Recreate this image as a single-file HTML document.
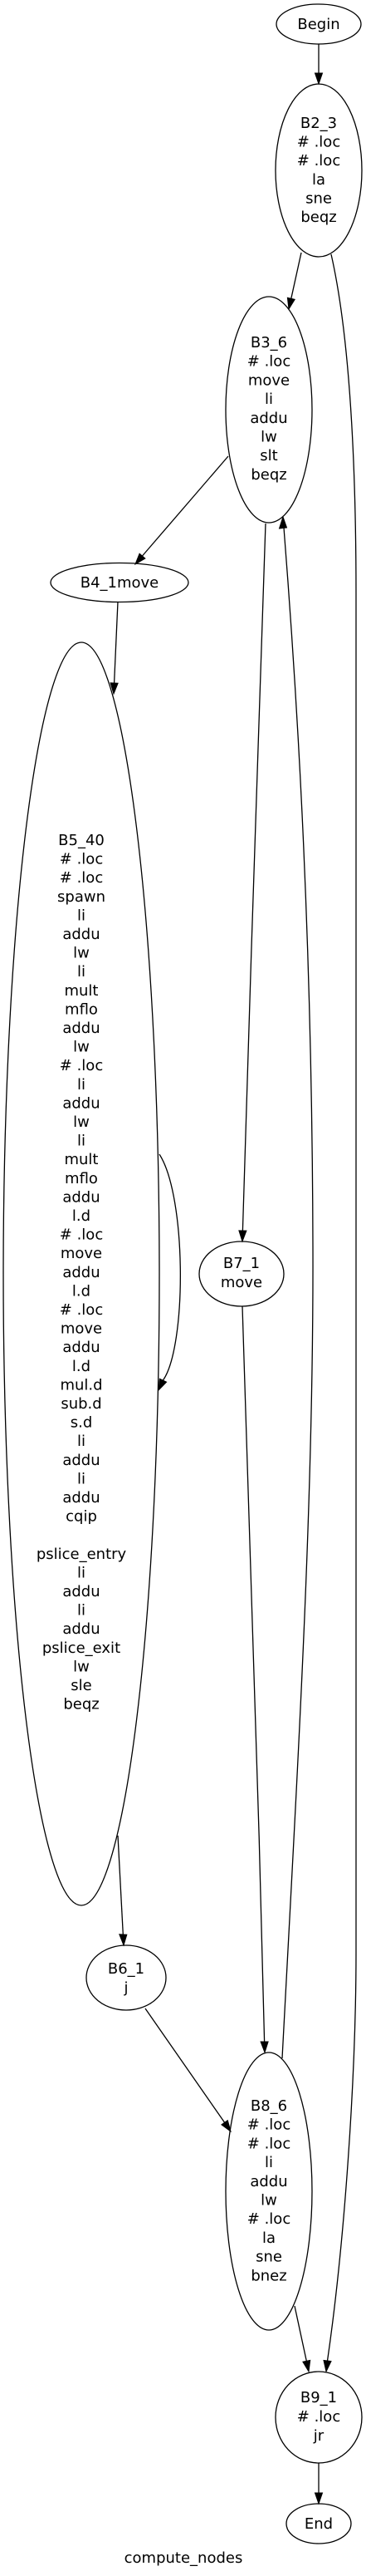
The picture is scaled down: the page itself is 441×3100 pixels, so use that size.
<!DOCTYPE html>
<html><head><meta charset="utf-8"><style>
html,body{margin:0;padding:0;background:#fff;}
svg{display:block;}
text{font-family:"DejaVu Sans","Liberation Sans",sans-serif;font-size:18px;fill:#000;text-anchor:middle;}
</style></head><body>
<svg width="441" height="3100" viewBox="0 0 441 3100" xmlns="http://www.w3.org/2000/svg">
<g fill="none" stroke="#000" stroke-width="1.3">
<ellipse cx="384" cy="29" rx="51" ry="24"/>
<ellipse cx="384" cy="205" rx="52" ry="104"/>
<ellipse cx="324" cy="493" rx="52" ry="136"/>
<ellipse cx="144" cy="701" rx="83" ry="23.5"/>
<ellipse cx="98" cy="1533" rx="94" ry="760"/>
<ellipse cx="291" cy="1533" rx="51" ry="39"/>
<ellipse cx="152" cy="2380" rx="48" ry="39"/>
<ellipse cx="324" cy="2637" rx="52" ry="167"/>
<ellipse cx="384" cy="2909" rx="52" ry="55"/>
<ellipse cx="384" cy="3037" rx="39" ry="24"/>
<path d="M384,53 L384,88"/>
<path d="M363,304 L350.8,359.3"/>
<path d="M275,549 L171.5,669"/>
<path d="M142,724 L137.6,822"/>
<path d="M320,630 C312,900 300,1200 292.4,1481"/>
<path d="M340,2477 C360,2100 378,1800 377,1500 C376,1100 355,800 342,635"/>
<path d="M192,1389 C225,1440 225,1620 196.5,1661"/>
<path d="M292,1572 C298,1800 312,2150 318.6,2457"/>
<path d="M142,2209 L148.3,2328"/>
<path d="M175,2417 L270.6,2554.3"/>
<path d="M355,2775 L369.3,2841.3"/>
<path d="M399,306 C425,420 429,600 429,714 L429,2350 C429,2500 415,2700 394.5,2841"/>
<path d="M384,2964 L384,3000"/>
</g>
<g fill="#000" stroke="#000" stroke-width="1">
<polygon points="384,101 379.5,88 388.5,88"/>
<polygon points="348,372 355.2,360.3 346.4,358.3"/>
<polygon points="163,679 174.9,672 168.1,666.2"/>
<polygon points="137,835 142.1,822.2 133.1,821.8"/>
<polygon points="292,1494 296.9,1481.1 287.9,1480.9"/>
<polygon points="341,622 345.5,635 336.5,636"/>
<polygon points="191,1673 200.6,1663.1 192.4,1659.3"/>
<polygon points="319,2470 323.1,2457 314.1,2457"/>
<polygon points="149,2341 152.8,2328.2 143.8,2327.8"/>
<polygon points="278,2565 274.3,2551.7 266.9,2556.9"/>
<polygon points="372,2854 373.7,2840.4 364.9,2842.2"/>
<polygon points="393,2854 399,2841.5 390,2840.5"/>
<polygon points="384,3013 379.5,3000 388.5,3000"/>
</g>
<text x="384" y="35">Begin</text>
<text x="384" y="154"><tspan x="384">B2_3</tspan><tspan x="384" dy="22.6"># .loc</tspan><tspan x="384" dy="22.6"># .loc</tspan><tspan x="384" dy="22.6">la</tspan><tspan x="384" dy="22.6">sne</tspan><tspan x="384" dy="22.6">beqz</tspan></text>
<text x="324" y="418"><tspan x="324">B3_6</tspan><tspan x="324" dy="22.7"># .loc</tspan><tspan x="324" dy="22.7">move</tspan><tspan x="324" dy="22.7">li</tspan><tspan x="324" dy="22.7">addu</tspan><tspan x="324" dy="22.7">lw</tspan><tspan x="324" dy="22.7">slt</tspan><tspan x="324" dy="22.7">beqz</tspan></text>
<text x="144" y="707">B4_1move</text>
<text x="98" y="1017"><tspan x="98">B5_40</tspan><tspan x="98" dy="22.6"># .loc</tspan><tspan x="98" dy="22.6"># .loc</tspan><tspan x="98" dy="22.6">spawn</tspan><tspan x="98" dy="22.6">li</tspan><tspan x="98" dy="22.6">addu</tspan><tspan x="98" dy="22.6">lw</tspan><tspan x="98" dy="22.6">li</tspan><tspan x="98" dy="22.6">mult</tspan><tspan x="98" dy="22.6">mflo</tspan><tspan x="98" dy="22.6">addu</tspan><tspan x="98" dy="22.6">lw</tspan><tspan x="98" dy="22.6"># .loc</tspan><tspan x="98" dy="22.6">li</tspan><tspan x="98" dy="22.6">addu</tspan><tspan x="98" dy="22.6">lw</tspan><tspan x="98" dy="22.6">li</tspan><tspan x="98" dy="22.6">mult</tspan><tspan x="98" dy="22.6">mflo</tspan><tspan x="98" dy="22.6">addu</tspan><tspan x="98" dy="22.6">l.d</tspan><tspan x="98" dy="22.6"># .loc</tspan><tspan x="98" dy="22.6">move</tspan><tspan x="98" dy="22.6">addu</tspan><tspan x="98" dy="22.6">l.d</tspan><tspan x="98" dy="22.6"># .loc</tspan><tspan x="98" dy="22.6">move</tspan><tspan x="98" dy="22.6">addu</tspan><tspan x="98" dy="22.6">l.d</tspan><tspan x="98" dy="22.6">mul.d</tspan><tspan x="98" dy="22.6">sub.d</tspan><tspan x="98" dy="22.6">s.d</tspan><tspan x="98" dy="22.6">li</tspan><tspan x="98" dy="22.6">addu</tspan><tspan x="98" dy="22.6">li</tspan><tspan x="98" dy="22.6">addu</tspan><tspan x="98" dy="22.6">cqip</tspan><tspan x="98" dy="45.2">pslice_entry</tspan><tspan x="98" dy="22.6">li</tspan><tspan x="98" dy="22.6">addu</tspan><tspan x="98" dy="22.6">li</tspan><tspan x="98" dy="22.6">addu</tspan><tspan x="98" dy="22.6">pslice_exit</tspan><tspan x="98" dy="22.6">lw</tspan><tspan x="98" dy="22.6">sle</tspan><tspan x="98" dy="22.6">beqz</tspan></text>
<text x="291" y="1526"><tspan x="291">B7_1</tspan><tspan x="291" dy="23">move</tspan></text>
<text x="152" y="2375"><tspan x="152">B6_1</tspan><tspan x="152" dy="23">j</tspan></text>
<text x="324" y="2540"><tspan x="324">B8_6</tspan><tspan x="324" dy="22.7"># .loc</tspan><tspan x="324" dy="22.7"># .loc</tspan><tspan x="324" dy="22.7">li</tspan><tspan x="324" dy="22.7">addu</tspan><tspan x="324" dy="22.7">lw</tspan><tspan x="324" dy="22.7"># .loc</tspan><tspan x="324" dy="22.7">la</tspan><tspan x="324" dy="22.7">sne</tspan><tspan x="324" dy="22.7">bnez</tspan></text>
<text x="384" y="2891"><tspan x="384">B9_1</tspan><tspan x="384" dy="23"># .loc</tspan><tspan x="384" dy="23">jr</tspan></text>
<text x="384" y="3043">End</text>
<text x="221" y="3084">compute_nodes</text>
</svg>
</body></html>
